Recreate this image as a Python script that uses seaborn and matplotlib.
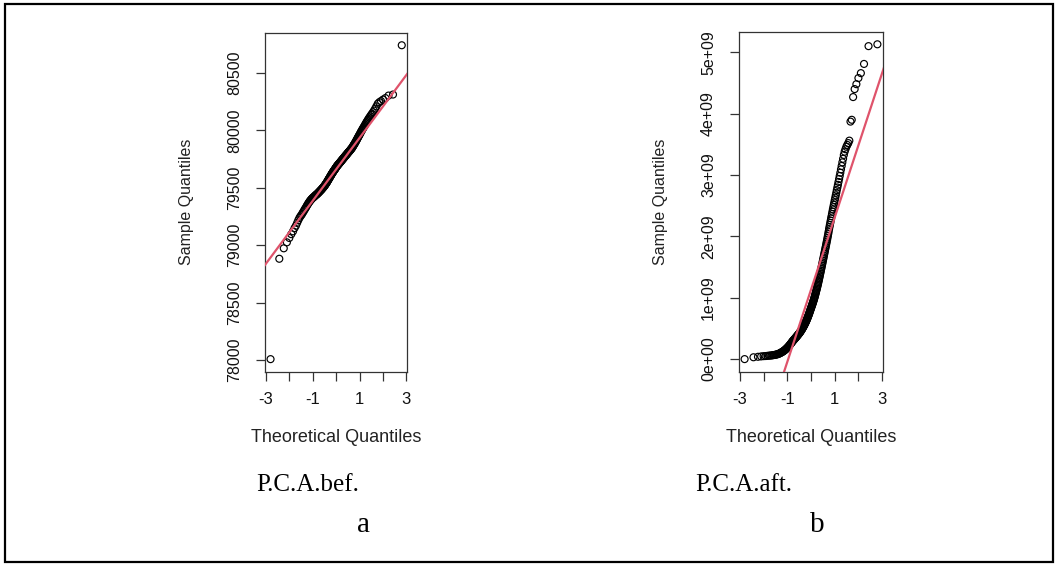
import statistics

import numpy as np
import matplotlib
matplotlib.use("Agg")
import matplotlib.pyplot as plt
from matplotlib.patches import Rectangle
import seaborn as sns

# Sorted sample values (200 observations each)
pca_bef = [
    78008, 78882, 78973, 79025, 79063, 79096, 79121, 79149, 79170, 79194,
    79217, 79236, 79250, 79261, 79272, 79286, 79295, 79309, 79317, 79328,
    79338, 79348, 79357, 79365, 79373, 79380, 79387, 79392, 79398, 79403,
    79408, 79412, 79415, 79419, 79422, 79426, 79430, 79434, 79437, 79440,
    79442, 79446, 79450, 79453, 79456, 79460, 79463, 79467, 79470, 79474,
    79477, 79480, 79484, 79487, 79490, 79495, 79498, 79502, 79504, 79509,
    79512, 79516, 79520, 79524, 79528, 79533, 79536, 79541, 79545, 79549,
    79554, 79559, 79564, 79568, 79573, 79577, 79582, 79586, 79591, 79595,
    79600, 79604, 79609, 79613, 79618, 79622, 79626, 79630, 79634, 79638,
    79642, 79646, 79650, 79653, 79657, 79661, 79664, 79668, 79672, 79676,
    79680, 79684, 79687, 79691, 79694, 79697, 79700, 79703, 79706, 79710,
    79712, 79716, 79718, 79722, 79725, 79728, 79731, 79734, 79738, 79741,
    79744, 79747, 79751, 79753, 79757, 79760, 79764, 79766, 79770, 79774,
    79777, 79780, 79783, 79787, 79789, 79793, 79797, 79800, 79804, 79808,
    79810, 79815, 79817, 79821, 79824, 79829, 79833, 79836, 79840, 79844,
    79848, 79854, 79859, 79865, 79870, 79876, 79881, 79887, 79893, 79900,
    79906, 79913, 79920, 79927, 79935, 79942, 79949, 79957, 79964, 79972,
    79981, 79989, 79997, 80005, 80014, 80022, 80031, 80040, 80049, 80060,
    80070, 80080, 80090, 80101, 80112, 80122, 80134, 80145, 80158, 80172,
    80189, 80209, 80232, 80245, 80255, 80268, 80281, 80303, 80312, 80741,
]

# in units of 1e9
pca_aft_e9 = [
    0.000, 0.030, 0.038, 0.044, 0.048, 0.050, 0.053, 0.056, 0.058, 0.060,
    0.063, 0.066, 0.069, 0.072, 0.075, 0.079, 0.083, 0.088, 0.094, 0.100,
    0.106, 0.112, 0.118, 0.124, 0.131, 0.138, 0.145, 0.152, 0.160, 0.168,
    0.176, 0.184, 0.192, 0.200, 0.209, 0.218, 0.227, 0.236, 0.245, 0.254,
    0.263, 0.272, 0.281, 0.290, 0.298, 0.306, 0.313, 0.320, 0.327, 0.334,
    0.341, 0.348, 0.355, 0.362, 0.369, 0.376, 0.383, 0.390, 0.397, 0.404,
    0.411, 0.418, 0.425, 0.432, 0.440, 0.448, 0.456, 0.464, 0.472, 0.480,
    0.489, 0.498, 0.507, 0.516, 0.525, 0.534, 0.544, 0.554, 0.564, 0.574,
    0.584, 0.594, 0.605, 0.616, 0.627, 0.638, 0.650, 0.662, 0.674, 0.686,
    0.699, 0.712, 0.725, 0.738, 0.752, 0.766, 0.780, 0.794, 0.808, 0.822,
    0.836, 0.850, 0.864, 0.878, 0.892, 0.906, 0.921, 0.936, 0.951, 0.967,
    0.983, 1.000, 1.017, 1.035, 1.053, 1.072, 1.091, 1.110, 1.130, 1.150,
    1.170, 1.190, 1.211, 1.232, 1.254, 1.277, 1.300, 1.323, 1.347, 1.371,
    1.395, 1.420, 1.445, 1.470, 1.496, 1.522, 1.548, 1.575, 1.602, 1.629,
    1.656, 1.684, 1.712, 1.740, 1.768, 1.797, 1.826, 1.855, 1.885, 1.915,
    1.946, 1.978, 2.010, 2.045, 2.080, 2.118, 2.152, 2.186, 2.220, 2.256,
    2.292, 2.328, 2.364, 2.402, 2.440, 2.476, 2.514, 2.551, 2.591, 2.630,
    2.669, 2.711, 2.754, 2.797, 2.840, 2.887, 2.935, 2.984, 3.037, 3.092,
    3.147, 3.206, 3.264, 3.327, 3.380, 3.420, 3.460, 3.490, 3.520, 3.560,
    3.870, 3.900, 4.270, 4.400, 4.480, 4.580, 4.660, 4.810, 5.100, 5.130,
]

x_ticks = [-3, -2, -1, 0, 1, 2, 3]
x_tick_labels = ["-3", "", "-1", "", "1", "", "3"]
bef_ticks = [78000, 78500, 79000, 79500, 80000, 80500]
bef_tick_labels = ["78000", "78500", "79000", "79500", "80000", "80500"]
aft_ticks = [0, 1e9, 2e9, 3e9, 4e9, 5e9]
aft_tick_labels = ["0e+00", "1e+09", "2e+09", "3e+09", "4e+09", "5e+09"]

captions = ["P.C.A.bef.", "P.C.A.aft."]
panel_letters = ["a", "b"]

POINT_COLOR = "black"
LINE_COLOR = "#DF536B"
FRAME_COLOR = "#333333"

sns.set_theme(style="white")
plt.rcParams["font.family"] = ["Liberation Sans", "DejaVu Sans"]

norm = statistics.NormalDist()


def theoretical_quantiles(n):
    a = 3 / 8 if n <= 10 else 0.5
    p = (np.arange(1, n + 1) - a) / (n + 1 - 2 * a)
    return np.array([norm.inv_cdf(pi) for pi in p])


def padded(lo, hi, frac=0.04):
    r = hi - lo
    return lo - frac * r, hi + frac * r


def qq_panel(ax, values, yticks, ytick_labels):
    values = np.sort(np.asarray(values, dtype=float))
    z = theoretical_quantiles(len(values))

    # reference line through the first and third quartiles
    q1, q3 = np.quantile(values, [0.25, 0.75])
    t = norm.inv_cdf(0.75)
    slope = (q3 - q1) / (2 * t)
    intercept = q1 + slope * t

    xlim = padded(z.min(), z.max())
    ylim = padded(values.min(), values.max())

    sns.scatterplot(x=z, y=values, ax=ax, s=25, marker="o",
                    facecolors="none", edgecolor=POINT_COLOR,
                    linewidth=0.85, zorder=3)
    xl = np.array([xlim[0] - 1, xlim[1] + 1])
    sns.lineplot(x=xl, y=intercept + slope * xl, ax=ax,
                 color=LINE_COLOR, linewidth=1.6, zorder=4)

    ax.set_xlim(*xlim)
    ax.set_ylim(*ylim)
    ax.set_xticks(x_ticks)
    ax.set_xticklabels(x_tick_labels, fontsize=12, color="#111111")
    ax.set_yticks(yticks)
    ax.set_yticklabels(ytick_labels, rotation=90, va="center",
                       fontsize=11.5, color="#111111")
    ax.tick_params(axis="both", direction="out", length=6.2, width=0.9,
                   color=FRAME_COLOR, left=True, bottom=True)
    ax.tick_params(axis="x", pad=8.5)
    ax.tick_params(axis="y", pad=10.5)
    for sp in ax.spines.values():
        sp.set_color(FRAME_COLOR)
        sp.set_linewidth(0.9)
    ax.grid(False)

    ax.set_xlabel("Theoretical Quantiles", fontsize=13, color="#222222")
    ax.set_ylabel("Sample Quantiles", fontsize=11.5, color="#222222")


W, H = 1055, 564
fig = plt.figure(figsize=(W / 100, H / 100), dpi=100)
fig.patch.set_facecolor("white")


def px_axes(left, top, right, bottom):
    return fig.add_axes([left / W, 1 - bottom / H, (right - left) / W, (bottom - top) / H])


ax_a = px_axes(265.3, 32.7, 407.0, 371.7)
ax_b = px_axes(739.3, 31.7, 882.7, 371.7)

qq_panel(ax_a, pca_bef, bef_ticks, bef_tick_labels)
qq_panel(ax_b, np.asarray(pca_aft_e9) * 1e9, aft_ticks, aft_tick_labels)
ax_b.yaxis.get_offset_text().set_visible(False)

for ax, ylab_x in ((ax_a, -0.555), (ax_b, -0.548)):
    ax.xaxis.set_label_coords(0.5, -0.193)
    ax.xaxis.label.set_va("center")
    ax.yaxis.set_label_coords(ylab_x, 0.5)
    ax.yaxis.label.set_va("center")

# captions under each panel
serif = ["Liberation Serif", "DejaVu Serif"]
fig.text(256.7 / W, 1 - 491 / H, captions[0], family=serif, fontsize=18,
         ha="left", va="baseline", color="black")
fig.text(695 / W, 1 - 491 / H, captions[1], family=serif, fontsize=18,
         ha="left", va="baseline", color="black")
fig.text(363.3 / W, 1 - 531.7 / H, panel_letters[0], family=serif, fontsize=21,
         ha="center", va="baseline", color="black")
fig.text(817.3 / W, 1 - 531.7 / H, panel_letters[1], family=serif, fontsize=21,
         ha="center", va="baseline", color="black")

# outer frame around the whole figure
fig.patches.append(Rectangle((5 / W, 2 / H), 1048 / W, 558 / H,
                             transform=fig.transFigure, fill=False,
                             edgecolor="black", linewidth=1.6))

fig.savefig("out.png", dpi=100, facecolor="white")
